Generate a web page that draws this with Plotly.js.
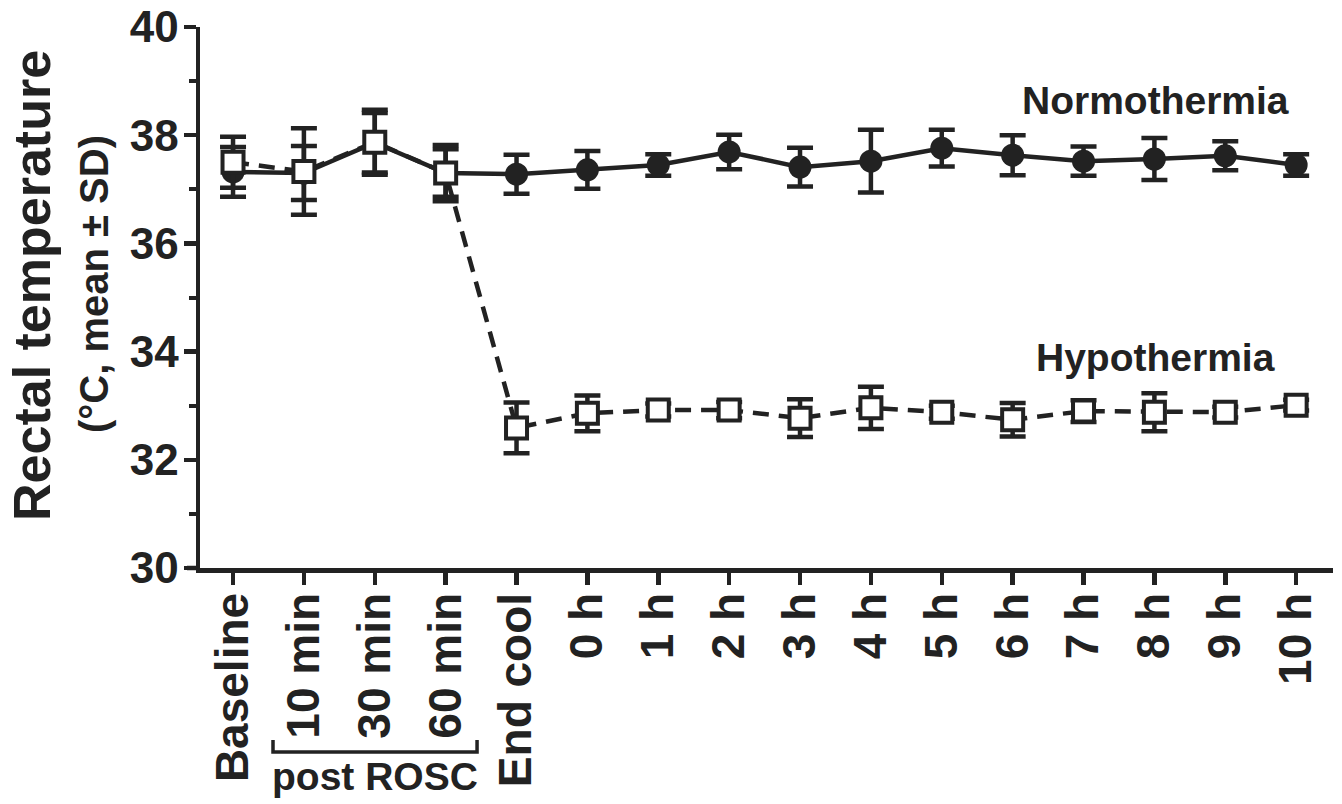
<!DOCTYPE html>
<html>
<head>
<meta charset="utf-8">
<script src="https://cdn.plot.ly/plotly-3.0.1.min.js"></script>
<style>html,body{margin:0;padding:0;background:#fff;}#chart{width:1342px;height:804px;}</style>
</head>
<body>
<div id="chart"></div>
<script>
var categories = ['Baseline','10 min','30 min','60 min','End cool','0 h','1 h','2 h','3 h','4 h','5 h','6 h','7 h','8 h','9 h','10 h'];
var normoMean = [37.32, 37.30, 37.86, 37.30, 37.28, 37.36, 37.45, 37.69, 37.41, 37.52, 37.76, 37.63, 37.52, 37.56, 37.62, 37.45];
var normoSD   = [0.46, 0.50, 0.55, 0.44, 0.36, 0.35, 0.20, 0.32, 0.36, 0.58, 0.34, 0.37, 0.27, 0.39, 0.27, 0.20];
var hypoMean  = [37.50, 37.33, 37.87, 37.30, 32.59, 32.86, 32.92, 32.92, 32.77, 32.96, 32.88, 32.74, 32.90, 32.88, 32.88, 33.01];
var hypoSD    = [0.47, 0.80, 0.60, 0.52, 0.47, 0.33, 0.12, 0.15, 0.35, 0.39, 0.12, 0.31, 0.20, 0.35, 0.10, 0.10];
var yTicks = [30, 32, 34, 36, 38, 40];

var ink = '#222222';
var fam = 'Liberation Sans, Arial, sans-serif';
var xIdx = categories.map(function(c, i){ return i; });

var normo = {
  x: xIdx, y: normoMean, type: 'scatter', mode: 'lines+markers', name: 'Normothermia',
  line: {color: ink, width: 4.5},
  marker: {symbol: 'circle', size: 23, color: ink},
  error_y: {type: 'data', array: normoSD, visible: true, color: ink, thickness: 4.5, width: 13}
};
var hypo = {
  x: xIdx, y: hypoMean, type: 'scatter', mode: 'lines+markers', name: 'Hypothermia',
  line: {color: ink, width: 4.5, dash: '16px,10px'},
  marker: {symbol: 'square', size: 21, color: '#ffffff', line: {color: ink, width: 4}},
  error_y: {type: 'data', array: hypoSD, visible: true, color: ink, thickness: 4.5, width: 13}
};

var layout = {
  width: 1342, height: 804,
  margin: {l: 200, r: 9, t: 27, b: 236},
  paper_bgcolor: '#ffffff', plot_bgcolor: '#ffffff',
  showlegend: false,
  font: {family: fam, color: ink},
  xaxis: {
    range: [-0.466, 15.52], tickmode: 'array', tickvals: xIdx, ticktext: categories,
    tickangle: -90, ticks: 'outside', ticklen: 12, tickwidth: 4.5, tickcolor: ink,
    ticklabelstandoff: -10,
    showline: true, linewidth: 4.5, linecolor: ink, showgrid: false, zeroline: false,
    tickfont: {family: fam, size: 46, color: ink, weight: 'bold'}
  },
  yaxis: {
    range: [30, 40], tickmode: 'array', tickvals: yTicks, ticktext: yTicks.map(String),
    ticks: 'outside', ticklen: 12, tickwidth: 4.5, tickcolor: ink,
    ticklabelstandoff: -4,
    minor: {dtick: 1, ticks: 'outside', ticklen: 7, tickwidth: 4, tickcolor: ink, showgrid: false},
    showline: true, linewidth: 4.5, linecolor: ink, showgrid: false, zeroline: false,
    tickfont: {family: fam, size: 44, color: ink, weight: 'bold'}
  },
  shapes: [
    {type: 'line', xref: 'paper', yref: 'paper', x0: -0.0115, x1: 0, y0: 0, y1: 0,
     line: {color: ink, width: 4.5}},
    {type: 'path', xref: 'x', yref: 'paper',
     path: 'M 0.564 -0.318 L 0.564 -0.340 L 3.443 -0.340 L 3.443 -0.318',
     line: {color: ink, width: 3.5}}
  ],
  annotations: [
    {xref: 'paper', yref: 'paper', x: (32-200)/1133, y: (568-286)/541, text: 'Rectal temperature',
     textangle: -90, showarrow: false, xanchor: 'center', yanchor: 'middle',
     font: {family: fam, size: 52, color: ink, weight: 'bold'}},
    {xref: 'paper', yref: 'paper', x: (94-200)/1133, y: (568-284)/541, text: '(°C, mean ± SD)',
     textangle: -90, showarrow: false, xanchor: 'center', yanchor: 'middle',
     font: {family: fam, size: 40, color: ink, weight: 'bold'}},
    {xref: 'paper', yref: 'paper', x: (1155-200)/1133, y: (568-100)/541, text: 'Normothermia',
     showarrow: false, xanchor: 'center', yanchor: 'middle',
     font: {family: fam, size: 39, color: ink, weight: 'bold'}},
    {xref: 'paper', yref: 'paper', x: (1155-200)/1133, y: (568-357)/541, text: 'Hypothermia',
     showarrow: false, xanchor: 'center', yanchor: 'middle',
     font: {family: fam, size: 39, color: ink, weight: 'bold'}},
    {xref: 'x', yref: 'paper', x: 2.0, y: (568-776)/541, text: 'post ROSC',
     showarrow: false, xanchor: 'center', yanchor: 'middle',
     font: {family: fam, size: 39, color: ink, weight: 'bold'}}
  ]
};

Plotly.newPlot('chart', [normo, hypo], layout, {displayModeBar: false, staticPlot: true});
</script>
</body>
</html>
